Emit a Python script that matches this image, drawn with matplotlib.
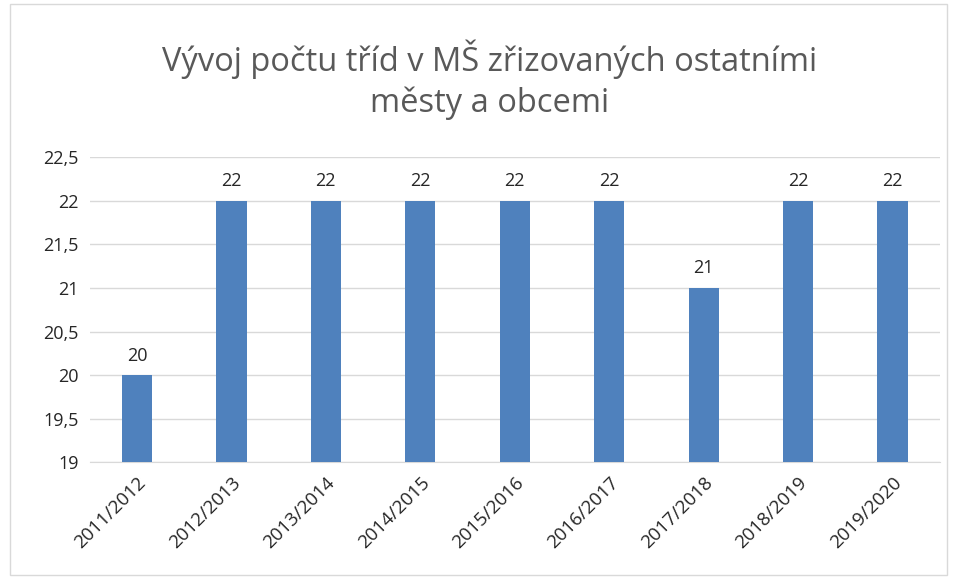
import matplotlib.pyplot as plt
from matplotlib.patches import Rectangle

plt.rcParams['font.family'] = ['Open Sans', 'DejaVu Sans']

roky = ["2011/2012", "2012/2013", "2013/2014", "2014/2015", "2015/2016",
        "2016/2017", "2017/2018", "2018/2019", "2019/2020"]
tridy = [20, 22, 22, 22, 22, 22, 21, 22, 22]
yticks = [19, 19.5, 20, 20.5, 21, 21.5, 22, 22.5]

fig = plt.figure(figsize=(9.55, 5.8), dpi=100)
ax = fig.add_axes([0.094, 0.203, 0.89, 0.526])

x = range(len(roky))
ax.bar(x, [t - 19 for t in tridy], bottom=19, width=0.32, color="#4F81BD", zorder=3)
for i, t in enumerate(tridy):
    ax.text(i, t + 0.12, str(t), ha="center", va="bottom", fontsize=13, color="#262626")

ax.set_ylim(19, 22.5)
ax.set_xlim(-0.5, len(roky) - 0.5)
ax.set_yticks(yticks)
ax.set_yticklabels([str(v).replace(".", ",").replace(",0", "") for v in yticks],
                   fontsize=13, color="#262626")
ax.set_xticks(list(x))
ax.set_xticklabels(roky, rotation=45, ha="right", rotation_mode="anchor",
                   fontsize=13.5, color="#262626")
ax.tick_params(length=0, pad=8)
ax.grid(axis="y", color="#D9D9D9", linewidth=1, zorder=0)
for s in ["top", "right", "left"]:
    ax.spines[s].set_visible(False)
ax.spines["bottom"].set_color("#D9D9D9")

fig.text(0.513, 0.863, "Vývoj počtu tříd v MŠ zřizovaných ostatními\nměsty a obcemi",
         ha="center", va="center", fontsize=23.5, color="#595959", linespacing=1.3)

fig.patches.append(Rectangle((0.01, 0.008), 0.982, 0.985, transform=fig.transFigure,
                             fill=False, edgecolor="#D9D9D9", linewidth=1))

fig.savefig("out.png")
